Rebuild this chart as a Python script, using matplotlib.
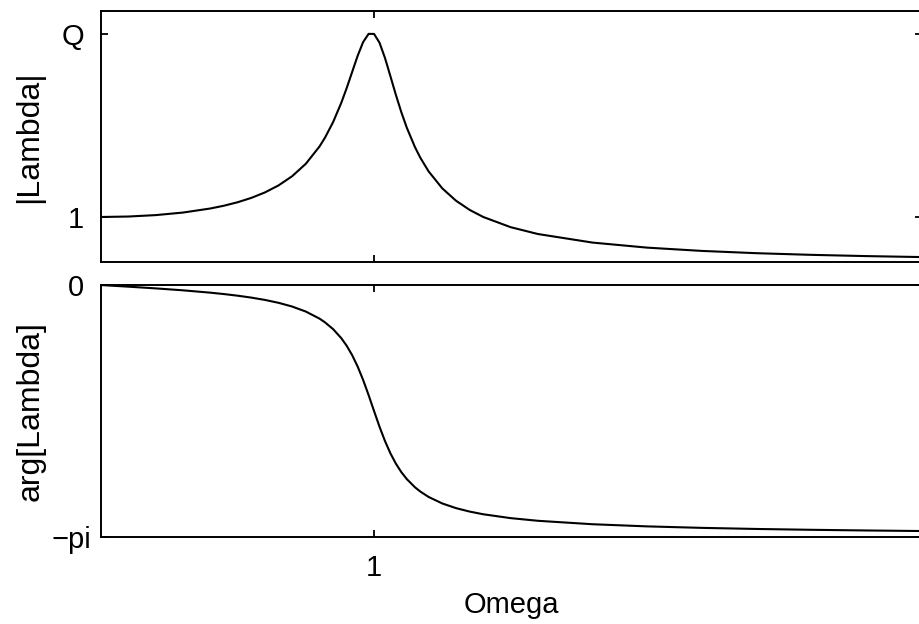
import numpy as np
import matplotlib
matplotlib.use("Agg")
import matplotlib.pyplot as plt
from matplotlib.transforms import ScaledTranslation

plt.rcParams['font.family'] = ['Liberation Sans', 'DejaVu Sans']

# driven oscillator response, Q = 5
Q = 5.0
omega = [0.0, 0.1, 0.2, 0.3, 0.4, 0.45, 0.5, 0.55, 0.6, 0.65, 0.7, 0.75, 0.8,
         0.82, 0.85, 0.88, 0.9, 0.92, 0.94, 0.96, 0.98, 1.0, 1.02, 1.04, 1.06,
         1.08, 1.1, 1.12, 1.15, 1.17, 1.2, 1.25, 1.3, 1.35, 1.4, 1.5, 1.6, 1.8,
         2.0, 2.2, 2.4, 2.6, 2.8, 3.0, 3.05]
amplitude = [1.0, 1.0099, 1.0408, 1.0965, 1.1851, 1.2460, 1.3216, 1.4162, 1.5357,
             1.6893, 1.8908, 2.1622, 2.5384, 2.7296, 3.0727, 3.4949, 3.8208,
             4.1721, 4.5225, 4.8218, 5.0010, 5.0, 4.8086, 4.4755, 4.0750,
             3.6676, 3.2880, 2.9502, 2.5245, 2.2891, 1.9952, 1.6246, 1.3562,
             1.1552, 1.0, 0.7779, 0.6280, 0.4408, 0.3304, 0.2587, 0.2090,
             0.1729, 0.1457, 0.1247, 0.1201]
phase = [0.0, -0.0202, -0.0416, -0.0658, -0.0950, -0.1124, -0.1326, -0.1564,
         -0.1853, -0.2214, -0.2679, -0.3304, -0.4182, -0.4642, -0.5496, -0.6625,
         -0.7582, -0.8755, -1.0167, -1.1833, -1.3714, -1.5708, -1.7665, -1.9447,
         -2.0986, -2.2272, -2.3329, -2.4195, -2.5220, -2.5761, -2.6423, -2.7234,
         -2.7812, -2.8244, -2.8579, -2.9061, -2.9393, -2.9822, -3.0090, -3.0275,
         -3.0411, -3.0516, -3.0599, -3.0667, -3.0683]

amp_ticks = [1, Q]
amp_labels = ['1', 'Q']
phase_ticks = [0, -np.pi]
phase_labels = ['0', '\u2212pi']

fs = 21
fig = plt.figure(figsize=(9.2, 6.24), dpi=100)
ax1 = fig.add_axes([0.1098, 0.5801, 0.8924, 0.4022])
ax2 = fig.add_axes([0.1098, 0.1394, 0.8924, 0.4038])

for ax in (ax1, ax2):
    ax.set_xlim(0, 3.007)
    ax.set_xticks([1])
    ax.tick_params(direction='in', length=5, width=1.3, top=True, right=True,
                   labelsize=fs, pad=12)
    for s in ax.spines.values():
        s.set_linewidth(1.4)

ax1.plot(omega, amplitude, color='black', lw=1.5)
ax1.set_ylim(0.016, 5.5)
ax1.set_yticks(amp_ticks)
ax1.set_yticklabels(amp_labels)
ax1.tick_params(axis='x', labelbottom=False)
ax1.set_ylabel('|Lambda|', fontsize=23, va='center')
ax1.yaxis.set_label_coords(-0.087, 0.5)

ax2.plot(omega, phase, color='black', lw=1.5)
ax2.set_ylim(-np.pi, 0)
ax2.set_yticks(phase_ticks)
ax2.set_yticklabels(phase_labels)
ax2.set_xticklabels(['1'])
ax2.tick_params(axis='x', pad=12)
ax2.set_ylabel('arg[Lambda]', fontsize=23, va='center')
ax2.yaxis.set_label_coords(-0.086, 0.5)
ax2.set_xlabel('Omega', fontsize=fs, labelpad=7)

# the -pi label sits closer to the axis, its baseline below the tick
pi_tick = ax2.yaxis.get_major_ticks()[1]
pi_tick.set_pad(7)
pi_label = pi_tick.label1
pi_label.set_verticalalignment('baseline')
pi_label.set_transform(pi_label.get_transform()
                       + ScaledTranslation(0, -8 / 72, fig.dpi_scale_trans))

fig.savefig('out.png', dpi=100)
